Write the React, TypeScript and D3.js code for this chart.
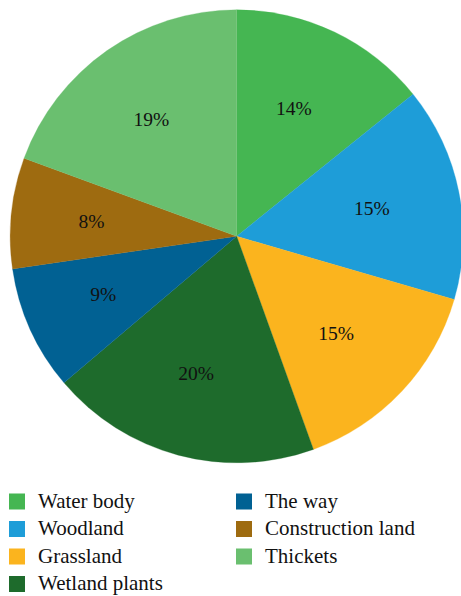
import React from "react";
import * as d3 from "d3";

const categories = ["Water body", "Woodland", "Grassland", "Wetland plants", "The way", "Construction land", "Thickets"];
const values = [14.2, 15.3, 15.0, 19.3, 8.9, 7.9, 19.4];
const labels = ["14%", "15%", "15%", "20%", "9%", "8%", "19%"];
const colors = ["#45b652", "#1e9dd8", "#fbb41e", "#1e6b2c", "#016193", "#9e6b10", "#6abf6f"];

const W = 461;
const H = 596;
const cx = 236.7;
const cy = 236.3;
const R = 226.5;
const FONT = "'Liberation Serif', 'Times New Roman', serif";

export default function App() {
  const data = categories.map((c, i) => ({ name: c, value: values[i], label: labels[i], color: colors[i] }));
  const pie = d3.pie<any>().value((d) => d.value).sort(null).startAngle(0).endAngle(2 * Math.PI);
  const arcs = pie(data);
  const arc = d3.arc<any>().innerRadius(0).outerRadius(R);
  const lr = R * 0.627;
  const labelArc = d3.arc<any>().innerRadius(lr).outerRadius(lr);

  const legendOrder = [[0, 1, 2, 3], [4, 5, 6]];
  const colX = [9, 236];
  const rowY = d3.scaleLinear().domain([0, 1]).range([493.5, 521]);

  return (
    <svg width={W} height={H} style={{ position: "absolute", left: 0, top: 0, background: "#fff" }}>
      <g transform={`translate(${cx},${cy})`}>
        {arcs.map((a, i) => (
          <path key={i} d={arc(a) || ""} fill={a.data.color} stroke={a.data.color} strokeWidth={0.3} />
        ))}
        {arcs.map((a, i) => {
          const [x, y] = labelArc.centroid(a);
          return (
            <text key={"l" + i} x={x - 4} y={y + 6.6} textAnchor="middle" style={{ fontFamily: FONT, fontSize: "19.5px" }} fill="#111">
              {a.data.label}
            </text>
          );
        })}
      </g>
      {legendOrder.map((col, ci) =>
        col.map((idx, ri) => (
          <g key={`lg${ci}-${ri}`} transform={`translate(${colX[ci]},${rowY(ri)})`}>
            <rect x={0} y={0} width={16} height={16} fill={colors[idx]} />
            <text x={29} y={14} style={{ fontFamily: FONT, fontSize: "21px" }} fill="#111">
              {categories[idx]}
            </text>
          </g>
        ))
      )}
    </svg>
  );
}
